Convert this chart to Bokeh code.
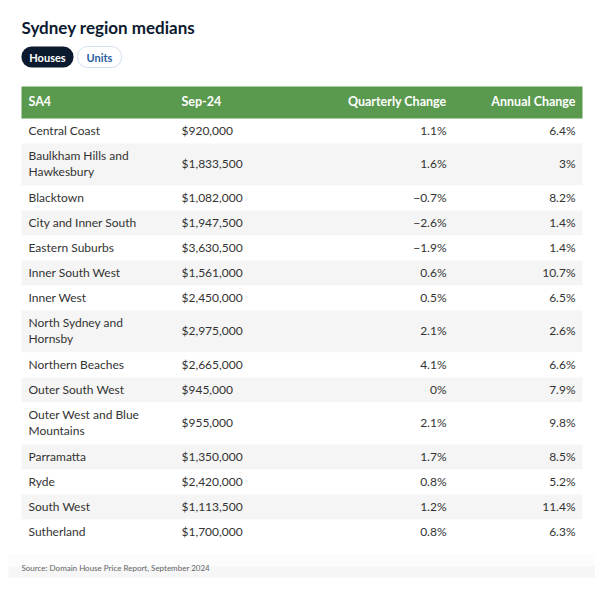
from bokeh.plotting import figure
from bokeh.models import Range1d, ColumnDataSource, BoxAnnotation
from bokeh.core.properties import value
from bokeh.embed import file_html
from bokeh.resources import INLINE

# ---------------- data ----------------
title = "Sydney region medians"
tabs = ["Houses", "Units"]
columns = ["SA4", "Sep-24", "Quarterly Change", "Annual Change"]
regions = [
    "Central Coast",
    "Baulkham Hills and\nHawkesbury",
    "Blacktown",
    "City and Inner South",
    "Eastern Suburbs",
    "Inner South West",
    "Inner West",
    "North Sydney and\nHornsby",
    "Northern Beaches",
    "Outer South West",
    "Outer West and Blue\nMountains",
    "Parramatta",
    "Ryde",
    "South West",
    "Sutherland",
]
median_price = [920000, 1833500, 1082000, 1947500, 3630500, 1561000, 2450000,
                2975000, 2665000, 945000, 955000, 1350000, 2420000, 1113500, 1700000]
quarterly_change = [1.1, 1.6, -0.7, -2.6, -1.9, 0.6, 0.5, 2.1, 4.1, 0, 2.1, 1.7, 0.8, 1.2, 0.8]
annual_change = [6.4, 3, 8.2, 1.4, 1.4, 10.7, 6.5, 2.6, 6.6, 7.9, 9.8, 8.5, 5.2, 11.4, 6.3]
source_note = "Source: Domain House Price Report, September 2024"

# ---------------- style ----------------
FONT = "Lato"
NAVY = "#0c1a30"
GREEN = "#5a9a4e"
TEXT = "#333333"
BLUE = "#2c5d9f"

W = H = 595
p = figure(width=W, height=H, x_range=Range1d(0, W), y_range=Range1d(H, 0),
           output_backend="svg", toolbar_location=None, min_border=0,
           x_axis_location=None, y_axis_location=None)
p.grid.visible = False
p.outline_line_color = None
p.background_fill_color = "white"
p.border_fill_color = "white"

# layout
T_LEFT, T_RIGHT = 21, 582
HEAD_TOP, HEAD_BOT = 86, 118
ROW_H, LINE_EXTRA = 25, 17
col_x = [28, 181, 446, 575]
col_align = ["left", "left", "right", "right"]


def fmt_pct(v):
    s = f"{abs(v):g}%"
    return "\u2212" + s if v < 0 else s


def fmt_price(v):
    return f"${v:,}"


heights = [ROW_H + LINE_EXTRA * r.count("\n") for r in regions]
tops, bots = [], []
y = HEAD_BOT
for h in heights:
    tops.append(y)
    y += h
    bots.append(y)
centers = [(a + b) / 2 - 1 for a, b in zip(tops, bots)]
fills = ["white" if i % 2 == 0 else "#f5f5f5" for i in range(len(regions))]

src = ColumnDataSource(dict(
    top=tops, bottom=bots, yc=centers, fill=fills,
    region=regions,
    price=[fmt_price(v) for v in median_price],
    q=[fmt_pct(v) for v in quarterly_change],
    a=[fmt_pct(v) for v in annual_change],
))

# footer band (soft gradient imitation)
p.add_layout(BoxAnnotation(left=8, right=W, top=554, bottom=566, level="underlay",
                           fill_color="#fcfcfc", fill_alpha=1, line_color=None))
p.add_layout(BoxAnnotation(left=8, right=W, top=566, bottom=577, level="underlay",
                           fill_color="#f6f6f6", fill_alpha=1, line_color=None))

# rows
p.quad(left=T_LEFT, right=T_RIGHT, top="top", bottom="bottom", fill_color="fill",
       line_color=None, source=src)

# header
p.quad(left=[T_LEFT], right=[T_RIGHT], top=[HEAD_TOP], bottom=[HEAD_BOT],
       fill_color=GREEN, line_color=None)
for c, x, al in zip(columns, col_x, col_align):
    p.text(x=[x], y=[(HEAD_TOP + HEAD_BOT) / 2 - 1.5], text=[c], text_align=al,
           text_baseline="middle", text_font=value(FONT), text_font_style="bold",
           text_font_size="12.5px", text_color="white")

# cells
for field, x, al in zip(["region", "price", "q", "a"], col_x, col_align):
    p.text(x=x, y="yc", text=field, source=src, text_align=al, text_baseline="middle",
           text_font=value(FONT), text_font_size="12px", text_color=TEXT,
           text_line_height=1.06)

# title
p.text(x=[21], y=[26.5], text=[title], text_baseline="middle", text_font=value(FONT),
       text_font_style="bold", text_font_size="17px", text_color=NAVY)

# tab pills
p.add_layout(BoxAnnotation(left=21, right=73, top=46, bottom=67, fill_color=NAVY,
                           fill_alpha=1, line_color=None, border_radius=10,
                           level="underlay"))
p.add_layout(BoxAnnotation(left=77, right=121, top=46, bottom=67, fill_color="white",
                           fill_alpha=1, line_color="#6f98cf", line_width=1,
                           border_radius=10, level="underlay"))
p.text(x=[47, 99], y=[56.5, 56.5], text=tabs, text_align="center", text_baseline="middle",
       text_font=value(FONT), text_font_style="bold", text_font_size="11px",
       text_color=["white", BLUE])

# source
p.text(x=[21], y=[567], text=[source_note], text_baseline="middle",
       text_font=value(FONT), text_font_size="8px", text_color="#666666")

open("out.html", "w").write(file_html(p, INLINE))
